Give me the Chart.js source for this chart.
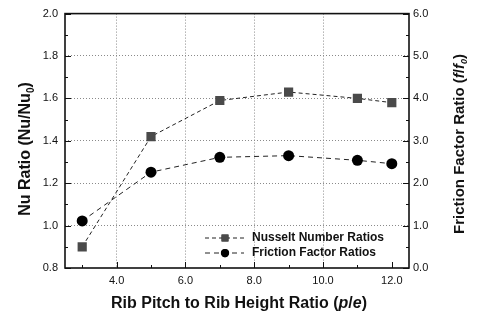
<!DOCTYPE html>
<html>
<head>
<meta charset="utf-8">
<script src="https://cdn.jsdelivr.net/npm/chart.js@4.4.1/dist/chart.umd.min.js"></script>
<style>
  html, body { margin: 0; padding: 0; background: #fff; }
  #wrap { width: 478px; height: 318px; }
</style>
</head>
<body>
<div id="wrap"><canvas id="c" width="478" height="318"></canvas></div>
<script>
// ---- data ----
const pitchRatios = [3, 5, 7, 9, 11, 12];
const nusseltRatios = [0.90, 1.42, 1.59, 1.63, 1.60, 1.58];
const frictionRatios = [1.11, 2.26, 2.61, 2.65, 2.54, 2.46];
const seriesLabels = ['Nusselt Number Ratios', 'Friction Factor Ratios'];
const xTicks = [3, 4, 5, 6, 7, 8, 9, 10, 11, 12];
const xMajorTicks = [4, 6, 8, 10, 12];
const yLeftTicks = [0.8, 0.9, 1.0, 1.1, 1.2, 1.3, 1.4, 1.5, 1.6, 1.7, 1.8, 1.9, 2.0];
const yLeftMajorTicks = [0.8, 1.0, 1.2, 1.4, 1.6, 1.8, 2.0];
const yRightTicks = [0, 0.5, 1, 1.5, 2, 2.5, 3, 3.5, 4, 4.5, 5, 5.5, 6];
const yRightMajorTicks = [0, 1, 2, 3, 4, 5, 6];
// axis titles: segments [text, italic, subscript]
const xTitle = [['Rib Pitch to Rib Height Ratio (', false, false], ['p', true, false], ['/', false, false], ['e', true, false], [')', false, false]];
const yLeftTitle = [['Nu Ratio (Nu/Nu', false, false], ['0', false, true], [')', false, false]];
const yRightTitle = [['Friction Factor Ratio (', false, false], ['f', true, false], ['/', false, false], ['f', true, false], ['0', true, true], [')', false, false]];

const FONT = 'Arial, "Liberation Sans", Helvetica, sans-serif';
const isMajor = (v, list) => list.some(m => Math.abs(m - v) < 1e-6);

function drawRich(ctx, segs, size) {
  const parts = segs.map(([t, it, sub]) => {
    const fs = sub ? Math.round(size * 0.62) : size;
    const f = (it ? 'italic ' : '') + 'bold ' + fs + 'px ' + FONT;
    ctx.font = f;
    return { t, f, sub, w: ctx.measureText(t).width };
  });
  const total = parts.reduce((a, p) => a + p.w, 0);
  let x = -total / 2;
  ctx.textBaseline = 'middle';
  ctx.textAlign = 'left';
  for (const p of parts) {
    ctx.font = p.f;
    ctx.fillText(p.t, x, p.sub ? size * 0.3 : 0);
    x += p.w;
  }
}

const decorPlugin = {
  id: 'decor',
  afterDraw(chart) {
    const ctx = chart.ctx;
    const a = chart.chartArea;
    const sx = chart.scales.x, sy = chart.scales.y, sy1 = chart.scales.y1;
    ctx.save();
    // inward tick marks
    ctx.strokeStyle = '#111';
    ctx.lineWidth = 1;
    ctx.beginPath();
    xTicks.forEach(v => {
      const px = Math.round(sx.getPixelForValue(v)) + 0.5;
      const L = isMajor(v, xMajorTicks) ? 6 : 3;
      ctx.moveTo(px, a.bottom); ctx.lineTo(px, a.bottom - L);
    });
    yLeftTicks.forEach(v => {
      const py = Math.round(sy.getPixelForValue(v)) + 0.5;
      const L = isMajor(v, yLeftMajorTicks) ? 6 : 3;
      ctx.moveTo(a.left, py); ctx.lineTo(a.left + L, py);
    });
    yRightTicks.forEach(v => {
      const py = Math.round(sy1.getPixelForValue(v)) + 0.5;
      const L = isMajor(v, yRightMajorTicks) ? 6 : 3;
      ctx.moveTo(a.right, py); ctx.lineTo(a.right - L, py);
    });
    ctx.stroke();
    // frame
    ctx.strokeStyle = '#111';
    ctx.lineWidth = 1.6;
    ctx.strokeRect(a.left, a.top, a.right - a.left, a.bottom - a.top);
    ctx.fillStyle = '#111';
    // titles
    ctx.save();
    ctx.translate(239, 304);
    drawRich(ctx, xTitle, 16);
    ctx.restore();
    ctx.save();
    ctx.translate(26, 149);
    ctx.rotate(-Math.PI / 2);
    drawRich(ctx, yLeftTitle, 16);
    ctx.restore();
    ctx.save();
    ctx.translate(460, 144);
    ctx.rotate(-Math.PI / 2);
    drawRich(ctx, yRightTitle, 15);
    ctx.restore();
    // legend
    const rows = [238, 253];
    chart.data.datasets.forEach((ds, i) => {
      const y = rows[i];
      ctx.save();
      ctx.strokeStyle = ds.borderColor;
      ctx.lineWidth = ds.borderWidth;
      ctx.setLineDash(ds.borderDash);
      ctx.beginPath();
      ctx.moveTo(205, y);
      ctx.lineTo(244, y);
      ctx.stroke();
      ctx.restore();
      Chart.helpers.drawPoint(ctx, {
        pointStyle: ds.pointStyle, radius: ds.pointRadius * 0.75, borderWidth: 0, rotation: 0
      }, 225, y);
      ctx.fillStyle = ds.pointBackgroundColor;
      ctx.fill();
      ctx.fillStyle = '#111';
      ctx.font = 'bold 12px ' + FONT;
      ctx.textAlign = 'left';
      ctx.textBaseline = 'middle';
      ctx.fillText(ds.label, 252, y);
    });
    ctx.restore();
  }
};

const gridColor = (list) => (c) => (c.tick && isMajor(c.tick.value, list) && c.index !== 0 && c.index !== c.scale.ticks.length - 1) ? '#8a8a8a' : 'rgba(0,0,0,0)';

new Chart(document.getElementById('c'), {
  type: 'line',
  data: {
    datasets: [
      {
        label: seriesLabels[0],
        data: pitchRatios.map((x, i) => ({ x, y: nusseltRatios[i] })),
        yAxisID: 'y',
        borderColor: '#222',
        borderWidth: 1,
        borderDash: [4, 3],
        pointStyle: 'rect',
        pointRadius: 6.5,
        pointBackgroundColor: '#4a4a4a',
        pointBorderWidth: 0,
        fill: false,
        tension: 0
      },
      {
        label: seriesLabels[1],
        data: pitchRatios.map((x, i) => ({ x, y: frictionRatios[i] })),
        yAxisID: 'y1',
        borderColor: '#222',
        borderWidth: 1,
        borderDash: [5, 4],
        pointStyle: 'circle',
        pointRadius: 5.5,
        pointBackgroundColor: '#000',
        pointBorderWidth: 0,
        fill: false,
        tension: 0
      }
    ]
  },
  options: {
    responsive: false,
    animation: false,
    devicePixelRatio: 1,
    layout: { padding: { top: 12, left: 0, right: 0, bottom: 0 } },
    plugins: { legend: { display: false }, tooltip: { enabled: false } },
    scales: {
      x: {
        type: 'linear',
        min: 2.5, max: 12.5,
        afterBuildTicks: (s) => { s.ticks = xTicks.map(v => ({ value: v })); },
        afterFit: (s) => { s.height = 50; },
        ticks: {
          autoSkip: false, maxRotation: 0, padding: 6, color: '#111',
          font: { family: FONT, size: 11 },
          callback: (v) => isMajor(v, xMajorTicks) ? Number(v).toFixed(1) : ''
        },
        grid: { color: gridColor(xMajorTicks), lineWidth: 1, drawTicks: false },
        border: { display: false, dash: [1, 2] },
        title: { display: false, text: 'Rib Pitch to Rib Height Ratio (p/e)' }
      },
      y: {
        type: 'linear', position: 'left',
        min: 0.8, max: 2.0,
        afterBuildTicks: (s) => { s.ticks = yLeftTicks.map(v => ({ value: v })); },
        afterFit: (s) => { s.width = 65; },
        ticks: {
          autoSkip: false, padding: 7, color: '#111',
          font: { family: FONT, size: 11 },
          callback: (v) => isMajor(v, yLeftMajorTicks) ? Number(v).toFixed(1) : ''
        },
        grid: { color: gridColor(yLeftMajorTicks), lineWidth: 1, drawTicks: false },
        border: { display: false, dash: [1, 2] },
        title: { display: false, text: 'Nu Ratio (Nu/Nu0)' }
      },
      y1: {
        type: 'linear', position: 'right',
        min: 0, max: 6,
        afterBuildTicks: (s) => { s.ticks = yRightTicks.map(v => ({ value: v })); },
        afterFit: (s) => { s.width = 69; },
        ticks: {
          autoSkip: false, padding: 4, color: '#111',
          font: { family: FONT, size: 11 },
          callback: (v) => isMajor(v, yRightMajorTicks) ? Number(v).toFixed(1) : ''
        },
        grid: { drawOnChartArea: false, drawTicks: false },
        border: { display: false },
        title: { display: false, text: 'Friction Factor Ratio (f/f0)' }
      }
    }
  },
  plugins: [decorPlugin]
});
</script>
</body>
</html>
